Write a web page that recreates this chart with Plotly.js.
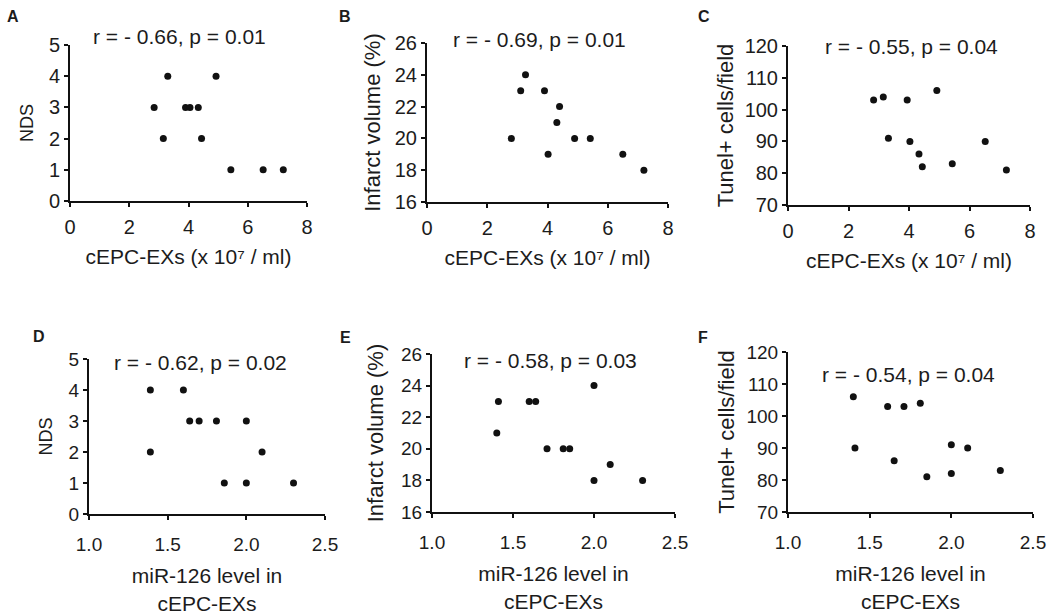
<!DOCTYPE html>
<html>
<head>
<meta charset="utf-8">
<script src="https://cdn.plot.ly/plotly-3.0.1.min.js"></script>
<style>html,body{margin:0;padding:0;background:#fff;}#chart{width:1050px;height:615px;}</style>
</head>
<body>
<div id="chart"></div>
<script>
// ---- data ----
const exoA = [2.84, 3.15, 3.3, 3.9, 4.05, 4.33, 4.44, 4.93, 5.43, 6.52, 7.2];
const ndsA = [3, 2, 4, 3, 3, 3, 2, 4, 1, 1, 1];
const exoB = [2.8, 3.11, 3.27, 3.9, 4.02, 4.31, 4.4, 4.9, 5.42, 6.5, 7.2];
const infB = [20, 23, 24, 23, 19, 21, 22, 20, 20, 19, 18];
const exoC = [2.83, 3.15, 3.32, 3.94, 4.03, 4.33, 4.44, 4.92, 5.43, 6.52, 7.22];
const tunC = [103, 104, 91, 103, 90, 86, 82, 106, 83, 90, 81];
const mirD = [1.39, 1.39, 1.6, 1.64, 1.7, 1.81, 2.0, 1.86, 2.0, 2.1, 2.3];
const ndsD = [4, 2, 4, 3, 3, 3, 3, 1, 1, 2, 1];
const mirE = [1.41, 1.4, 1.6, 1.64, 1.71, 1.81, 1.85, 2.0, 2.0, 2.1, 2.3];
const infE = [23, 21, 23, 23, 20, 20, 20, 24, 18, 19, 18];
const mirF = [1.4, 1.41, 1.61, 1.71, 1.65, 1.81, 1.85, 2.0, 2.0, 2.1, 2.3];
const tunF = [106, 90, 103, 103, 86, 104, 81, 91, 82, 90, 83];

const panelLetters = ["A", "B", "C", "D", "E", "F"];
const statTexts = ["r = - 0.66, p = 0.01", "r = - 0.69, p = 0.01", "r = - 0.55, p = 0.04",
                   "r = - 0.62, p = 0.02", "r = - 0.58, p = 0.03", "r = - 0.54, p = 0.04"];
const xTitleTop = "cEPC-EXs (x 10\u2077 / ml)";
const xTitleBottom = "miR-126 level in<br>cEPC-EXs";
const yTitles = ["NDS", "Infarct volume (%)", "Tunel+ cells/field", "NDS", "Infarct volume (%)", "Tunel+ cells/field"];

// ---- layout geometry (pixels) ----
const W = 1050, H = 615;
const FONT = "Liberation Sans, Arial, Helvetica, sans-serif";
const INK = "#1c1c1c";
const boxes = [
  {l: 70, r: 307, t: 45, b: 201},
  {l: 427, r: 668, t: 43, b: 202},
  {l: 788, r: 1030, t: 46, b: 205},
  {l: 89, r: 325, t: 359, b: 514},
  {l: 432, r: 675, t: 354, b: 512},
  {l: 788, r: 1033, t: 352, b: 512}
];
const xs = [exoA, exoB, exoC, mirD, mirE, mirF];
const ys = [ndsA, infB, tunC, ndsD, infE, tunF];
const xRanges = [[0, 8], [0, 8], [0, 8], [1, 2.5], [1, 2.5], [1, 2.5]];
const xDt = [2, 2, 2, 0.5, 0.5, 0.5];
const yRanges = [[0, 5], [16, 26], [70, 120], [0, 5], [16, 26], [70, 120]];
const yDt = [1, 2, 10, 1, 2, 10];
const letterPos = [[13, 17], [345, 17], [704, 17], [39, 336], [346, 337], [703, 337]];
const statPos = [[179, 36], [539, 39], [911, 47], [200, 362], [550, 360], [908, 374]];
const yStandoff = [11, 8, 5, 11, 11, 6];
const xStandoff = [12, 12, 12, 15, 15, 15];
const xLabelGap = [3, 3, 3, 8, 8, 8];

const px = x => x / W;
const py = y => 1 - y / H;

const traces = [];
const layout = {
  width: W, height: H,
  margin: {l: 0, r: 0, t: 0, b: 0},
  paper_bgcolor: "#fff", plot_bgcolor: "#fff",
  showlegend: false,
  font: {family: FONT, color: INK, size: 18},
  annotations: []
};

for (let i = 0; i < 6; i++) {
  const n = i === 0 ? "" : String(i + 1);
  const b = boxes[i];
  const tickSize = i < 3 ? 20 : 19;
  traces.push({
    type: "scatter", mode: "markers",
    x: xs[i], y: ys[i],
    xaxis: "x" + n, yaxis: "y" + n,
    marker: {color: "#111", size: 7},
    cliponaxis: false,
    hoverinfo: "x+y"
  });
  const common = {
    showline: true, linecolor: "#111", linewidth: 2,
    ticks: "outside", ticklen: 4, tickwidth: 2, tickcolor: "#111",
    showgrid: false, zeroline: false, automargin: false,
    tickfont: {family: FONT, size: tickSize, color: INK}, fixedrange: true
  };
  layout["xaxis" + n] = Object.assign({}, common, {
    domain: [px(b.l), px(b.r)], range: xRanges[i], dtick: xDt[i], tick0: xRanges[i][0],
    tickformat: i >= 3 ? ".1f" : "d",
    ticklabelstandoff: xLabelGap[i],
    anchor: "y" + n,
    title: {text: i < 3 ? xTitleTop : xTitleBottom, standoff: xStandoff[i],
            font: {family: FONT, size: 21, color: INK}}
  });
  layout["yaxis" + n] = Object.assign({}, common, {
    domain: [py(b.b), py(b.t)], range: yRanges[i], dtick: yDt[i], tick0: yRanges[i][0],
    anchor: "x" + n,
    title: {text: yTitles[i], standoff: yStandoff[i],
            font: {family: FONT, size: yTitles[i] === "NDS" ? 18 : 22, color: INK}}
  });
  // panel letter
  layout.annotations.push({
    xref: "paper", yref: "paper", x: px(letterPos[i][0]), y: py(letterPos[i][1]),
    text: panelLetters[i], showarrow: false,
    xanchor: "center", yanchor: "middle",
    font: {family: FONT, size: 16, color: INK, weight: "bold"}
  });
  // correlation text
  layout.annotations.push({
    xref: "paper", yref: "paper", x: px(statPos[i][0]), y: py(statPos[i][1]),
    text: statTexts[i], showarrow: false,
    xanchor: "center", yanchor: "middle",
    font: {family: FONT, size: 21, color: INK}
  });
}

Plotly.newPlot("chart", traces, layout, {displayModeBar: false, staticPlot: true});
</script>
</body>
</html>
